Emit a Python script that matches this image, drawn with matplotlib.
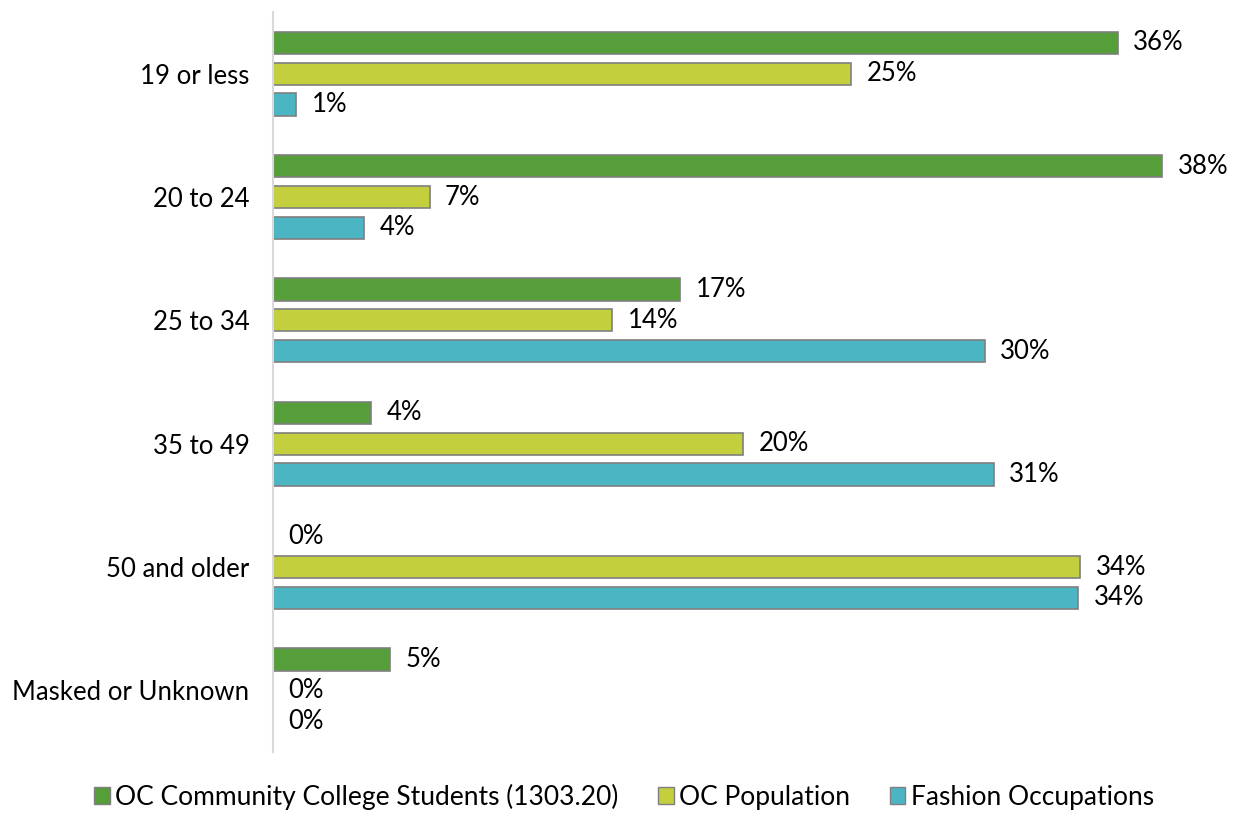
import numpy as np
import matplotlib.pyplot as plt
from matplotlib.patches import Patch

plt.rcParams['font.family'] = ['Lato', 'DejaVu Sans']

# Age groups and shares (%)
categories = ['19 or less', '20 to 24', '25 to 34', '35 to 49', '50 and older', 'Masked or Unknown']
students = [36.1, 38.0, 17.4, 4.2, 0.0, 5.0]
population = [24.7, 6.7, 14.5, 20.1, 34.49, 0.0]
fashion = [1.0, 3.9, 30.4, 30.8, 34.4, 0.0]

series_names = ['OC Community College Students (1303.20)', 'OC Population', 'Fashion Occupations']
colors = ['#559E3A', '#C3CF3C', '#4BB5C3']

fig = plt.figure(figsize=(12.45, 8.19), dpi=100)
ax = fig.add_axes([0.2193, 0.0818, 0.752, 0.9035])

y = np.arange(len(categories))
offsets = [-0.25, 0.0, 0.25]
for vals, off, col in zip([students, population, fashion], offsets, colors):
    bars = ax.barh(y + off, vals, height=0.18, color=col, edgecolor='#7F7F7F', linewidth=1.2)
    for b, v in zip(bars, vals):
        ax.text(v + 0.65, b.get_y() + b.get_height() / 2, f'{v:.0f}%',
                va='center', ha='left', fontsize=18.5, color='#000000')

ax.set_ylim(len(categories) - 0.5, -0.5)
ax.set_xlim(0, 40)
ax.set_yticks(y)
ax.set_yticklabels(categories, fontsize=18.5)
ax.tick_params(axis='y', length=0, pad=17)
ax.set_xticks([])
for s in ['top', 'right', 'bottom']:
    ax.spines[s].set_visible(False)
ax.spines['left'].set_color('#D9D9D9')
ax.spines['left'].set_linewidth(1.5)

handles = [Patch(facecolor=c, edgecolor='#7F7F7F', label=n) for c, n in zip(colors, series_names)]
fig.legend(handles=handles, loc='center', bbox_to_anchor=(0.501, 0.027), ncol=3, frameon=False,
           fontsize=19, handlelength=0.6, handleheight=0.6, handletextpad=0.2, columnspacing=1.5)

fig.savefig('out.png', dpi=100)
